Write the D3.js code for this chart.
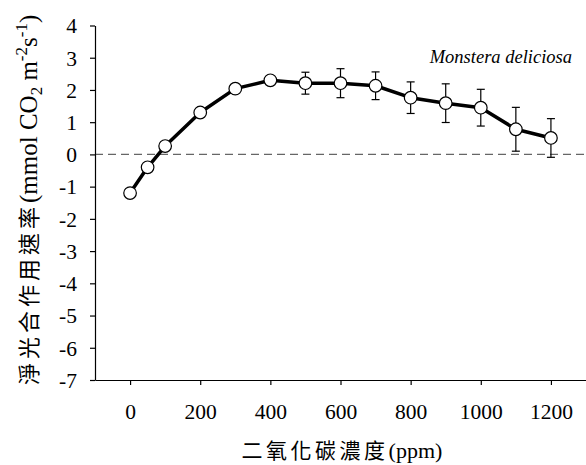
<!DOCTYPE html>
<html>
<head>
<meta charset="utf-8">
<script src="https://cdn.jsdelivr.net/npm/d3@7"></script>
<style>
  html, body { margin: 0; padding: 0; background: #fff; }
  svg { display: block; }
  .serif { font-family: "Liberation Serif", "Times New Roman", Tinos, "DejaVu Serif", serif; }
  .cjk { font-family: "Noto Sans CJK TC", "Noto Sans CJK SC", sans-serif; }
</style>
</head>
<body>
<svg id="chart" width="586" height="465"></svg>
<script>
// ---- data ----
const co2 = [0, 50, 100, 200, 300, 400, 500, 600, 700, 800, 900, 1000, 1100, 1200];
const netRate = [-1.2, -0.4, 0.26, 1.3, 2.04, 2.3, 2.21, 2.21, 2.13, 1.76, 1.59, 1.45, 0.78, 0.51];
const errRate = [0, 0, 0, 0, 0, 0, 0.34, 0.45, 0.43, 0.49, 0.6, 0.57, 0.68, 0.6];
const xTicks = [0, 200, 400, 600, 800, 1000, 1200];
const yTicks = [4, 3, 2, 1, 0, -1, -2, -3, -4, -5, -6, -7];
const speciesLabel = "Monstera deliciosa";
const xTitleCJK = "二氧化碳濃度";
const xTitleLatin = "(ppm)";
const yTitleCJK = "淨光合作用速率";

const svg = d3.select("#chart");

const x = d3.scaleLinear().domain([-100, 1300]).range([95, 586]);
const y = d3.scaleLinear().domain([-7, 4]).range([380, 25.5]);

const data = co2.map((c, i) => ({ c, v: netRate[i], e: errRate[i] }));

// zero reference line
svg.append("line")
  .attr("x1", x(-100)).attr("x2", x(1300))
  .attr("y1", y(0)).attr("y2", y(0))
  .attr("stroke", "#666").attr("stroke-width", 1.2)
  .attr("stroke-dasharray", "8,5");

// axes
const fmt = d => String(d);
const yAxis = d3.axisLeft(y).tickValues(yTicks).tickSize(5).tickSizeOuter(0).tickPadding(13)
  .tickFormat(fmt);
const gy = svg.append("g").attr("transform", `translate(${x(-100)},0)`).call(yAxis);
gy.attr("font-family", null);
gy.selectAll("text").attr("class", "serif").style("font-size", "21.5px").attr("fill", "#000")
  .attr("dy", "0.34em");

const xAxis = d3.axisBottom(x).tickValues(xTicks).tickSize(5).tickSizeOuter(0)
  .tickFormat(fmt);
const gx = svg.append("g").attr("transform", `translate(0,${y(-7)})`).call(xAxis);
gx.attr("font-family", null);
gx.selectAll("text").attr("class", "serif").style("font-size", "21.5px").attr("fill", "#000")
  .attr("y", 39).attr("dy", 0);

[gx, gy].forEach(g => {
  g.select(".domain").attr("stroke", "#000").attr("stroke-width", 1.2);
  g.selectAll(".tick line").attr("stroke", "#000").attr("stroke-width", 1.2);
});

// error bars
const eb = data.filter(d => d.e > 0);
const cap = 4;
const ge = svg.append("g").attr("stroke", "#000").attr("stroke-width", 1.2);
ge.selectAll("line.v").data(eb).join("line")
  .attr("x1", d => x(d.c)).attr("x2", d => x(d.c))
  .attr("y1", d => y(d.v + d.e)).attr("y2", d => y(d.v - d.e));
ge.selectAll("line.t").data(eb).join("line")
  .attr("x1", d => x(d.c) - cap).attr("x2", d => x(d.c) + cap)
  .attr("y1", d => y(d.v + d.e)).attr("y2", d => y(d.v + d.e));
ge.selectAll("line.b").data(eb).join("line")
  .attr("x1", d => x(d.c) - cap).attr("x2", d => x(d.c) + cap)
  .attr("y1", d => y(d.v - d.e)).attr("y2", d => y(d.v - d.e));

// line
svg.append("path").datum(data)
  .attr("fill", "none").attr("stroke", "#000").attr("stroke-width", 3.5)
  .attr("stroke-linejoin", "round")
  .attr("d", d3.line().x(d => x(d.c)).y(d => y(d.v)));

// markers
svg.append("g").selectAll("circle").data(data).join("circle")
  .attr("cx", d => x(d.c)).attr("cy", d => y(d.v)).attr("r", 6.3)
  .attr("fill", "#fff").attr("stroke", "#000").attr("stroke-width", 1.2);

// species label
svg.append("text").attr("class", "serif")
  .attr("x", 572).attr("y", 63).attr("text-anchor", "end")
  .style("font-style", "italic").style("font-size", "18.5px")
  .text(speciesLabel);

// x title
const xt = svg.append("text").attr("x", 342).attr("y", 458).attr("text-anchor", "middle")
  .attr("fill", "#000");
xt.append("tspan").attr("class", "cjk").style("font-size", "21px").attr("letter-spacing", 3.5)
  .text(xTitleCJK);
xt.append("tspan").attr("class", "serif").style("font-size", "22px").text(xTitleLatin);

// y title
const yt = svg.append("text")
  .attr("transform", "translate(37,385) rotate(-90)")
  .attr("text-anchor", "start").attr("fill", "#000");
yt.append("tspan").attr("class", "cjk").style("font-size", "22px").attr("letter-spacing", 4)
  .text(yTitleCJK);
function seg(text, size, dy) {
  const t = yt.append("tspan").attr("class", "serif").style("font-size", size + "px").text(text);
  if (dy !== undefined) t.attr("dy", dy);
  return t;
}
seg("(mmol CO", 25);
seg("2", 17, 5);
seg(" m", 25, -5);
seg("-2", 17, -10);
seg("s", 25, 10);
seg("-1", 17, -10);
seg(")", 25, 10);
</script>
</body>
</html>
